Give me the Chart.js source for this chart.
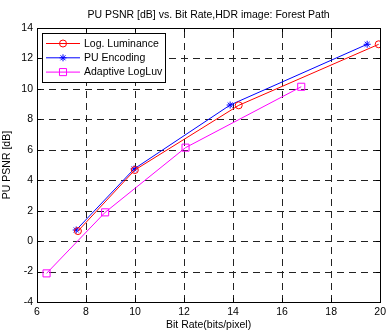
<!DOCTYPE html>
<html>
<head>
<meta charset="utf-8">
<script src="https://cdn.jsdelivr.net/npm/chart.js@4/dist/chart.umd.min.js"></script>
<style>
  html, body { margin: 0; padding: 0; background: #fff; }
  #wrap { width: 390px; height: 332px; }
</style>
</head>
<body>
<div id="wrap"><canvas id="chart" width="390" height="332"></canvas></div>
<script>
// values
var seriesNames = ['Log. Luminance', 'PU Encoding', 'Adaptive LogLuv'];
var rateLogLum = [7.67, 9.99, 14.23, 19.94];
var psnrLogLum = [0.66, 4.67, 8.92, 12.93];
var ratePU = [7.60, 9.96, 13.88, 19.47];
var psnrPU = [0.73, 4.74, 8.94, 12.93];
var rateLogLuv = [6.39, 8.78, 12.06, 16.78];
var psnrLogLuv = [-2.12, 1.89, 6.14, 10.14];
var xTicks = [6, 8, 10, 12, 14, 16, 18, 20];
var yTicks = [-4, -2, 0, 2, 4, 6, 8, 10, 12, 14];

var FONT = 'Liberation Sans, Arial, sans-serif';
var FSIZE = 10.5;

function pairs(xs, ys) {
  return xs.map(function(x, i) { return { x: x, y: ys[i] }; });
}

// dashed grid drawn by hand so the dash pattern is exact
var dashedGrid = {
  id: 'dashedGrid',
  beforeDatasetsDraw: function(chart) {
    var ctx = chart.ctx;
    var a = chart.chartArea;
    var xs = chart.scales.x, ys = chart.scales.y;
    ctx.save();
    ctx.strokeStyle = '#222';
    ctx.lineWidth = 1;
    ctx.setLineDash([7, 5]);
    xTicks.slice(1, -1).forEach(function(v) {
      var px = Math.round(xs.getPixelForValue(v)) + 0.5;
      ctx.beginPath();
      ctx.moveTo(px, a.bottom); ctx.lineTo(px, a.top);
      ctx.stroke();
    });
    yTicks.slice(1, -1).forEach(function(v) {
      var py = Math.round(ys.getPixelForValue(v)) + 0.5;
      ctx.beginPath();
      ctx.moveTo(a.left, py); ctx.lineTo(a.right, py);
      ctx.stroke();
    });
    ctx.restore();
  }
};

// MATLAB style: title above, box, inward ticks, legend box top-left
var matlabFrame = {
  id: 'matlabFrame',
  afterDraw: function(chart) {
    var ctx = chart.ctx;
    var a = chart.chartArea;
    var xs = chart.scales.x, ys = chart.scales.y;
    ctx.save();
    ctx.strokeStyle = '#000';
    ctx.lineWidth = 1;
    ctx.setLineDash([]);
    ctx.strokeRect(Math.round(a.left) + 0.5, Math.round(a.top) + 0.5,
      Math.round(a.right - a.left), Math.round(a.bottom - a.top));
    ctx.beginPath();
    xTicks.forEach(function(v) {
      var px = Math.round(xs.getPixelForValue(v)) + 0.5;
      ctx.moveTo(px, a.bottom); ctx.lineTo(px, a.bottom - 4);
      ctx.moveTo(px, a.top); ctx.lineTo(px, a.top + 4);
    });
    yTicks.forEach(function(v) {
      var py = Math.round(ys.getPixelForValue(v)) + 0.5;
      ctx.moveTo(a.left, py); ctx.lineTo(a.left + 4, py);
      ctx.moveTo(a.right, py); ctx.lineTo(a.right - 4, py);
    });
    ctx.stroke();

    // title
    ctx.fillStyle = '#000';
    ctx.font = FSIZE + 'px ' + FONT;
    ctx.textAlign = 'center';
    ctx.textBaseline = 'middle';
    ctx.fillText('PU PSNR [dB] vs. Bit Rate,HDR image: Forest Path', (a.left + a.right) / 2, 15);

    // legend
    var bx = 42, by = 33, bw = 123, bh = 49;
    ctx.fillStyle = '#fff';
    ctx.fillRect(bx, by, bw, bh);
    ctx.strokeStyle = '#000';
    ctx.strokeRect(bx + 0.5, by + 0.5, bw, bh);
    chart.data.datasets.forEach(function(ds, i) {
      var ry = by + 10.5 + i * 14.3;
      ctx.strokeStyle = ds.borderColor;
      ctx.lineWidth = 1;
      ctx.beginPath();
      ctx.moveTo(46, ry); ctx.lineTo(80, ry);
      ctx.stroke();
      ctx.fillStyle = 'rgba(0,0,0,0)';
      Chart.helpers.drawPoint(ctx, {
        pointStyle: ds.pointStyle, radius: ds.pointRadius, borderWidth: 1
      }, 63, ry);
      ctx.fillStyle = '#000';
      ctx.textAlign = 'left';
      ctx.fillText(ds.label, 84, ry + 0.5);
    });
    ctx.restore();
  }
};

function dataset(i, xs, ys, color, style, r) {
  return {
    label: seriesNames[i],
    data: pairs(xs, ys),
    showLine: true,
    borderColor: color,
    backgroundColor: 'rgba(0,0,0,0)',
    pointBorderColor: color,
    pointBackgroundColor: 'rgba(0,0,0,0)',
    borderWidth: 1,
    pointBorderWidth: 1,
    pointStyle: style,
    pointRadius: r
  };
}

new Chart(document.getElementById('chart').getContext('2d'), {
  type: 'scatter',
  data: {
    datasets: [
      dataset(0, rateLogLum, psnrLogLum, '#ff0000', 'circle', 3.5),
      dataset(1, ratePU, psnrPU, '#0000ff', 'star', 3.5),
      dataset(2, rateLogLuv, psnrLogLuv, '#ff00ff', 'rect', 5)
    ]
  },
  options: {
    responsive: false,
    animation: false,
    layout: { padding: { top: 28, right: 6, left: 0, bottom: 0 } },
    plugins: {
      legend: { display: false },
      title: { display: false },
      tooltip: { enabled: false }
    },
    scales: {
      x: {
        type: 'linear',
        min: 6, max: 20,
        afterBuildTicks: function(s) { s.ticks = xTicks.map(function(v) { return { value: v }; }); },
        afterFit: function(s) { s.height = 30; },
        grid: { display: false, drawTicks: false },
        border: { display: false },
        ticks: { padding: 4, color: '#000', font: { family: FONT, size: FSIZE }, maxRotation: 0 },
        title: { display: true, text: 'Bit Rate(bits/pixel)', color: '#000', font: { family: FONT, size: FSIZE }, padding: { top: 0, bottom: 1 } }
      },
      y: {
        type: 'linear',
        min: -4, max: 14,
        afterBuildTicks: function(s) { s.ticks = yTicks.map(function(v) { return { value: v }; }); },
        afterFit: function(s) { s.width = 37; },
        grid: { display: false, drawTicks: false },
        border: { display: false },
        ticks: { padding: 4, color: '#000', font: { family: FONT, size: FSIZE } },
        title: { display: true, text: 'PU PSNR [dB]', color: '#000', font: { family: FONT, size: FSIZE }, padding: { top: 1, bottom: 0 } }
      }
    }
  },
  plugins: [dashedGrid, matlabFrame]
});
</script>
</body>
</html>
